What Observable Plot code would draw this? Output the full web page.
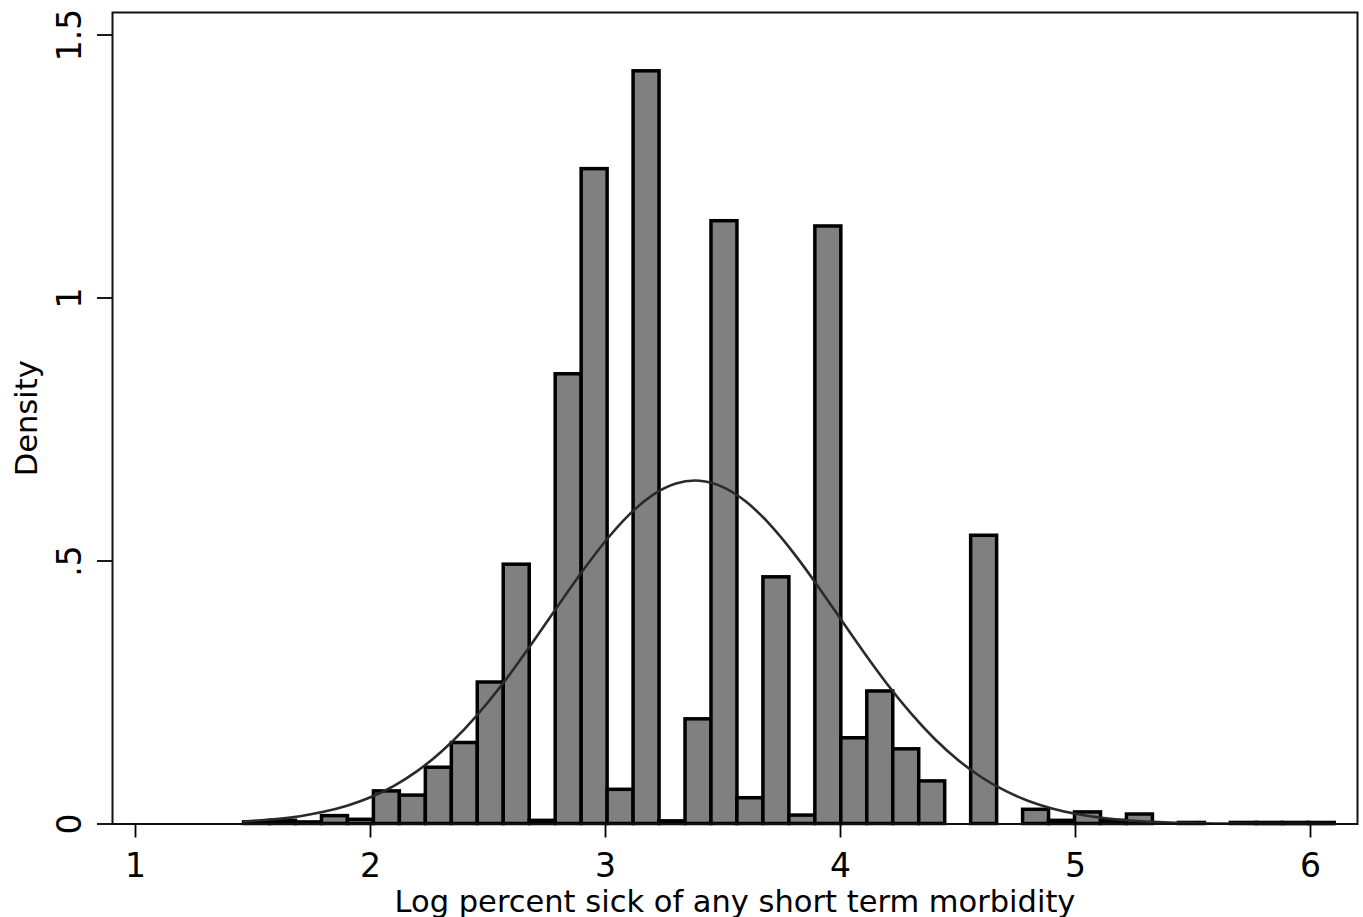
<!DOCTYPE html>
<html><head><meta charset="utf-8">
<script src="https://cdn.jsdelivr.net/npm/d3@7"></script>
<script src="https://cdn.jsdelivr.net/npm/@observablehq/plot@0.6"></script>
<style>
body{margin:0;background:#fff;}
svg g[aria-label="x-axis label"], svg g[aria-label="y-axis label"]{font-size:30.5px;}
</style>
</head><body><div id="chart"></div>
<script>
// Histogram bins (lower edge of first bin and bin width, in data units)
const binStart = 1.462;
const binWidth = 0.1105;
// Density of each of the 42 bins
const densities = [
  0.003, 0.006, 0.003, 0.015, 0.008, 0.062, 0.054, 0.107, 0.154, 0.269,
  0.493, 0.006, 0.855, 1.245, 0.065, 1.431, 0.005, 0.199, 1.146, 0.049,
  0.469, 0.016, 1.136, 0.163, 0.252, 0.142, 0.081, 0.000, 0.548, 0.000,
  0.027, 0.006, 0.022, 0.006, 0.018, 0.000, 0.002, 0.000, 0.002, 0.002,
  0.002, 0.002
];
// Overlaid density curve
const curveX = [1.46, 1.6, 1.7, 1.8, 1.9, 2.0, 2.1, 2.2, 2.3, 2.4, 2.5, 2.6, 2.7, 2.8, 2.9,
  3.0, 3.1, 3.2, 3.3, 3.4, 3.5, 3.6, 3.7, 3.8, 3.9, 4.0, 4.1, 4.2, 4.3, 4.4, 4.5, 4.6,
  4.7, 4.8, 4.9, 5.0, 5.1, 5.2, 5.3, 5.4, 5.5, 5.6, 5.8, 6.1];
const curveY = [0.0047, 0.0094, 0.0149, 0.0231, 0.0347, 0.0509, 0.0727, 0.1011, 0.1369, 0.1805,
  0.2315, 0.2890, 0.3515, 0.4161, 0.4794, 0.5380, 0.5878, 0.6252, 0.6473, 0.6526, 0.6405,
  0.6120, 0.5692, 0.5155, 0.4546, 0.3902, 0.3261, 0.2653, 0.2102, 0.1621, 0.1217, 0.0889,
  0.0633, 0.0439, 0.0296, 0.0194, 0.0124, 0.0077, 0.0047, 0.0027, 0.0016, 0.0009, 0.0003, 0.0000];
const xTicks = [1, 2, 3, 4, 5, 6];
const yTicks = [0, 0.5, 1, 1.5];
const yTickLabels = ["0", ".5", "1", "1.5"];
const xTitle = "Log percent sick of any short term morbidity";
const yTitle = "Density";

const bars = densities.map((d, i) => ({x1: binStart + i * binWidth, x2: binStart + (i + 1) * binWidth, density: d}));
const curve = curveX.map((x, i) => ({x, y: curveY[i]}));

const chart = Plot.plot({
  width: 1363, height: 917,
  marginLeft: 112, marginRight: 6, marginTop: 12, marginBottom: 93.5,
  style: {fontFamily: "DejaVu Sans", background: "#fff", color: "#000", overflow: "visible"},
  x: {domain: [0.90213, 6.2]},
  y: {domain: [0, 1.5428]},
  marks: [
    Plot.rectY(bars, {x1: "x1", x2: "x2", y: "density", fill: "#808080", stroke: "#000", strokeWidth: 3.5}),
    Plot.line(curve, {x: "x", y: "y", stroke: "#2a2a2a", strokeWidth: 2.6, curve: "natural"}),
    Plot.frame({stroke: "#111", strokeWidth: 2}),
    Plot.axisX({ticks: xTicks, tickSize: 14, tickPadding: 16, fontSize: 33, strokeWidth: 1.8,
      tickFormat: d => String(d), label: xTitle, labelAnchor: "center", labelOffset: 88, labelArrow: false}),
    Plot.axisY({ticks: yTicks, tickSize: 15, tickPadding: 17, tickRotate: -90, fontSize: 33, strokeWidth: 1.8,
      tickFormat: d => yTickLabels[yTicks.indexOf(d)], label: yTitle, labelAnchor: "center", labelOffset: 97, labelArrow: false})
  ]
});
document.getElementById("chart").appendChild(chart);
</script>
</body></html>
